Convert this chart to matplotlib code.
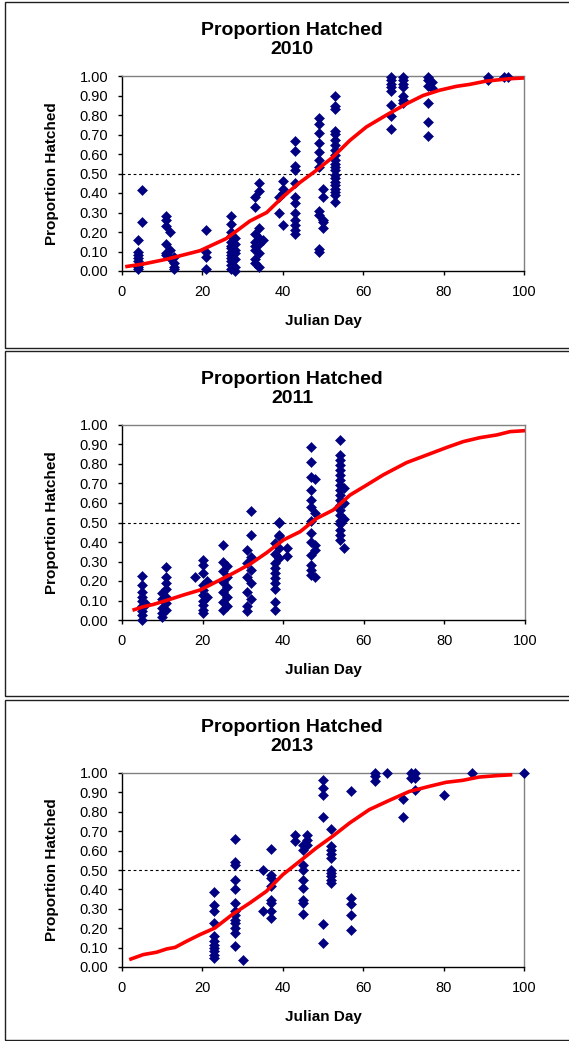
import matplotlib
matplotlib.use("Agg")
import matplotlib.pyplot as plt
from matplotlib.patches import Rectangle
import numpy as np

plt.rcParams['font.family'] = ['Liberation Sans', 'DejaVu Sans']

W, H = 569, 1041

# observed proportions, grouped by julian day
obs_2010 = {
    4: [0.16, 0.10, 0.08, 0.065, 0.05, 0.03, 0.02, 0.01],
    5: [0.415, 0.25],
    11: [0.28, 0.26, 0.23, 0.14, 0.09, 0.08],
    12: [0.20, 0.11, 0.065],
    13: [0.07, 0.04, 0.02, 0.01],
    21: [0.21, 0.10, 0.07, 0.01],
    27: [0.28, 0.24, 0.20, 0.18, 0.15, 0.13, 0.12, 0.10, 0.08, 0.065, 0.05, 0.03, 0.01],
    28: [0.17, 0.14, 0.11, 0.09, 0.06, 0.02, 0.0],
    33: [0.38, 0.33, 0.19, 0.15, 0.13, 0.11, 0.06, 0.04],
    34: [0.45, 0.41, 0.22, 0.17, 0.14, 0.09, 0.02],
    35: [0.16],
    39: [0.38, 0.30],
    40: [0.46, 0.42, 0.40, 0.235],
    43: [0.665, 0.615, 0.54, 0.52, 0.45, 0.38, 0.35, 0.295, 0.26, 0.235, 0.21, 0.19],
    49: [0.785, 0.755, 0.71, 0.655, 0.61, 0.57, 0.535, 0.31, 0.285, 0.115, 0.10],
    50: [0.42, 0.38, 0.26, 0.25, 0.22],
    53: [0.90, 0.845, 0.83, 0.72, 0.705, 0.67, 0.645, 0.62, 0.595, 0.57, 0.55,
         0.535, 0.52, 0.49, 0.475, 0.455, 0.44, 0.42, 0.405, 0.39, 0.355],
    67: [0.995, 0.98, 0.96, 0.945, 0.925, 0.85, 0.795, 0.73],
    70: [0.995, 0.98, 0.96, 0.945, 0.90, 0.875, 0.86],
    76: [0.995, 0.98, 0.95, 0.86, 0.765, 0.69],
    77: [0.97, 0.94],
    91: [0.995, 0.98],
    95: [0.995],
    96: [0.995],
}

obs_2011 = {
    5: [0.225, 0.18, 0.145, 0.12, 0.095, 0.07, 0.045, 0.025, 0.0],
    6: [0.08],
    10: [0.137, 0.11, 0.06, 0.035, 0.017],
    11: [0.27, 0.22, 0.19, 0.16, 0.12, 0.085, 0.05],
    18: [0.22],
    20: [0.31, 0.28, 0.24, 0.18, 0.155, 0.13, 0.10, 0.077, 0.05, 0.034],
    21: [0.20, 0.12],
    25: [0.385, 0.30, 0.25, 0.195, 0.145, 0.094, 0.05],
    26: [0.275, 0.22, 0.17, 0.12, 0.07],
    31: [0.36, 0.29, 0.22, 0.145, 0.07, 0.045],
    32: [0.56, 0.435, 0.325, 0.256, 0.19, 0.11],
    38: [0.395, 0.34, 0.29, 0.265, 0.24, 0.214, 0.19, 0.16, 0.094, 0.05],
    39: [0.505, 0.495, 0.435, 0.43, 0.37, 0.316],
    41: [0.37, 0.33],
    47: [0.885, 0.81, 0.735, 0.665, 0.615, 0.58, 0.51, 0.445, 0.40, 0.335, 0.28, 0.256, 0.23],
    48: [0.725, 0.55, 0.385, 0.36, 0.22],
    54: [0.925, 0.845, 0.82, 0.795, 0.77, 0.745, 0.72, 0.69, 0.665, 0.64, 0.615,
         0.59, 0.565, 0.54, 0.51, 0.49, 0.46, 0.435, 0.41],
    55: [0.675, 0.60, 0.52, 0.37],
}

obs_2013 = {
    23: [0.385, 0.32, 0.287, 0.227, 0.158, 0.132, 0.115, 0.098, 0.081, 0.064, 0.046],
    28: [0.66, 0.54, 0.527, 0.45, 0.40, 0.33, 0.287, 0.27, 0.244, 0.227, 0.20, 0.175, 0.107],
    30: [0.038],
    35: [0.50, 0.287],
    37: [0.608, 0.476, 0.459, 0.416, 0.347, 0.33, 0.287, 0.252],
    43: [0.682, 0.648],
    45: [0.63, 0.605, 0.527, 0.50, 0.45, 0.407, 0.347, 0.33, 0.275],
    46: [0.682, 0.656, 0.63],
    50: [0.966, 0.923, 0.888, 0.773, 0.223, 0.124],
    52: [0.711, 0.622, 0.605, 0.58, 0.562, 0.50, 0.485, 0.467, 0.45, 0.433],
    57: [0.909, 0.356, 0.326, 0.27, 0.189],
    63: [1.0, 0.983, 0.957],
    66: [1.0],
    70: [0.868, 0.771],
    72: [1.0, 0.974],
    73: [1.0, 0.974, 0.914],
    80: [0.888],
    87: [1.0],
    100: [1.0],
}

# fitted curves
fit_day_2010 = [0.8, 5.3, 11, 19.4, 26, 31.8, 36, 40, 44, 48.4, 52.5, 56.7, 60.8,
                65.8, 70.8, 74.9, 79, 83.2, 86.5, 90.6, 96.4, 100]
fit_p_2010 = [0.022, 0.036, 0.06, 0.104, 0.167, 0.256, 0.30, 0.38, 0.45, 0.517, 0.585,
              0.67, 0.739, 0.80, 0.858, 0.90, 0.927, 0.947, 0.957, 0.974, 0.986, 0.99]

fit_day_2011 = [2.6, 5.3, 7.8, 11, 15.2, 19.4, 23.5, 27.6, 31.8, 35.9, 40, 44.2, 48.3,
                52.4, 56.6, 60.7, 64.8, 70.6, 75.6, 80.6, 84.7, 88.8, 93, 96.3, 100]
fit_p_2011 = [0.05, 0.068, 0.08, 0.10, 0.128, 0.154, 0.197, 0.24, 0.287, 0.345, 0.41,
              0.453, 0.521, 0.564, 0.641, 0.692, 0.744, 0.807, 0.846, 0.885, 0.915,
              0.935, 0.949, 0.966, 0.971]

fit_day_2013 = [1.8, 5.3, 8.6, 11.1, 13.2, 16, 19.4, 23.1, 27.6, 31.8, 35.9, 40, 44.2,
                48.3, 52.4, 56.6, 61.5, 66.5, 71.5, 76.4, 80.6, 84.7, 88.8, 93, 97.1]
fit_p_2013 = [0.038, 0.064, 0.076, 0.093, 0.101, 0.132, 0.167, 0.201, 0.273, 0.33, 0.39,
              0.476, 0.545, 0.613, 0.674, 0.742, 0.811, 0.859, 0.905, 0.931, 0.952,
              0.962, 0.979, 0.986, 0.991]

years = ['2010', '2011', '2013']
observations = [obs_2010, obs_2011, obs_2013]
fits = [(fit_day_2010, fit_p_2010), (fit_day_2011, fit_p_2011), (fit_day_2013, fit_p_2013)]

# pixel layout: (box top, box bottom, axes top, axes bottom, axes right)
panels = [(2, 348, 76, 271, 524), (351, 696, 425, 620, 525), (700, 1040, 773, 967, 524)]

fig = plt.figure(figsize=(W / 100, H / 100), dpi=100)

for year, obs, (fx, fy), (btop, bbot, atop, abot, aright) in zip(years, observations, fits, panels):
    fig.patches.append(Rectangle((5 / W, 1 - bbot / H), 600 / W, (bbot - btop) / H,
                                 transform=fig.transFigure, fill=False,
                                 edgecolor='#202020', linewidth=1.0))
    ax = fig.add_axes([122 / W, 1 - abot / H, (aright - 122) / W, (abot - atop) / H])

    days = np.concatenate([[d] * len(v) for d, v in obs.items()])
    props = np.concatenate([v for v in obs.values()])

    ax.axhline(0.5, xmin=0, xmax=0.99, color='black', linestyle=(0, (2.5, 2.5)), linewidth=0.8, zorder=1)
    ax.plot(days, props, linestyle='none', marker='D', markersize=5.1,
            color='#000080', markeredgewidth=0.4, zorder=3)
    ax.plot(fx, fy, color='red', linewidth=2.6, zorder=4, solid_capstyle='butt')

    ax.set_xlim(0, 100)
    ax.set_ylim(0, 1)
    ax.set_xticks(np.arange(0, 101, 20))
    ax.set_yticks(np.arange(0, 1.01, 0.1))
    ax.set_yticklabels([f'{v:.2f}' for v in np.arange(0, 1.01, 0.1)])
    ax.tick_params(direction='out', length=3, width=1, labelsize=10.5, pad=7, colors='black')
    for s in ['top', 'right']:
        ax.spines[s].set_color('#808080')
    for s in ['left', 'bottom']:
        ax.spines[s].set_color('black')
    for s in ax.spines.values():
        s.set_linewidth(1)
    for line in ax.lines:
        line.set_clip_on(False)

    fig.text(292 / W, 1 - (atop - 36) / H, 'Proportion Hatched\n' + year, ha='center',
             va='center', fontsize=14, fontweight='bold', linespacing=1.2)
    fig.text(52 / W, 1 - (atop + abot) / 2 / H, 'Proportion Hatched', ha='center',
             va='center', rotation=90, fontsize=11, fontweight='bold')
    fig.text(323 / W, 1 - (abot + 50) / H, 'Julian Day', ha='center', va='center',
             fontsize=11, fontweight='bold')

fig.savefig('out.png', dpi=100)
